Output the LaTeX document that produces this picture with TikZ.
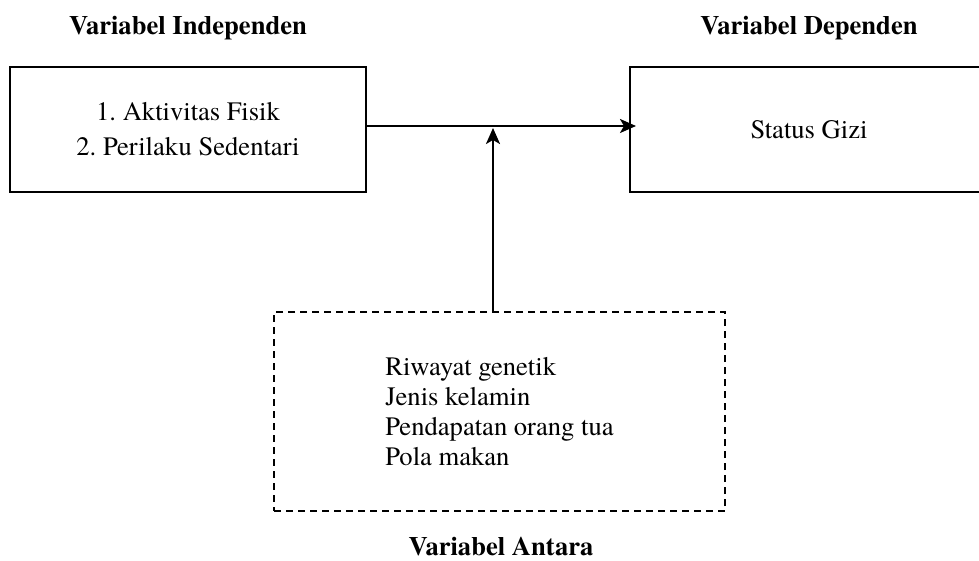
\documentclass[tikz,border=0pt]{standalone}
\usepackage{fontspec}
\setmainfont{texgyretermes}[Extension=.otf, UprightFont=*-regular,
  BoldFont=*-bold, ItalicFont=*-italic, BoldItalicFont=*-bolditalic]
\usetikzlibrary{arrows.meta}
\frenchspacing
\begin{document}
\begin{tikzpicture}[x=0.5pt,y=-0.5pt,
  varbox/.style={draw, line width=1pt, inner sep=0pt, align=center,
    font=\fontsize{13.3}{17.5}\selectfont},
  vartitle/.style={anchor=base, font=\fontsize{13.3}{15}\selectfont\bfseries},
  link/.style={line width=1.1pt, -{Stealth[length=8pt,width=7pt,inset=2pt]}}]
\useasboundingbox (0,0) rectangle (979,561);
\clip (0,0) rectangle (979,561);
%%% The titles of the three variable groups
\node[vartitle] (titleind) at (188,35) {Variabel Independen};
\node[vartitle] (titledep) at (809,35) {Variabel Dependen};
\node[vartitle] (titleant) at (501,555) {Variabel Antara};
%%% The boxes
\node[varbox, minimum width=178pt, minimum height=62.5pt] (indep) at (188,129.5)
  {1. Aktivitas Fisik\\2. Perilaku Sedentari};
\node[varbox, minimum width=179pt, minimum height=62.5pt] (depen) at (809,129.5)
  {Status Gizi};
% the intervening variables
\node[varbox, line width=0.65pt, dash pattern=on 3.5pt off 2.5pt,
  minimum width=225.5pt, minimum height=99.5pt, align=left,
  font=\fontsize{13.3}{15}\selectfont] (antara) at (499.5,411.5)
  {Riwayat genetik\\Jenis kelamin\\Pendapatan orang tua\\Pola makan};
%%% The arrows
\coordinate (hit) at (493,126);
\draw[link] (indep.east |- hit) -- ([xshift=3.5pt]depen.west |- hit);
\draw[link] (antara.north -| hit) -- ([yshift=-1pt]hit);
\end{tikzpicture}
\end{document}
